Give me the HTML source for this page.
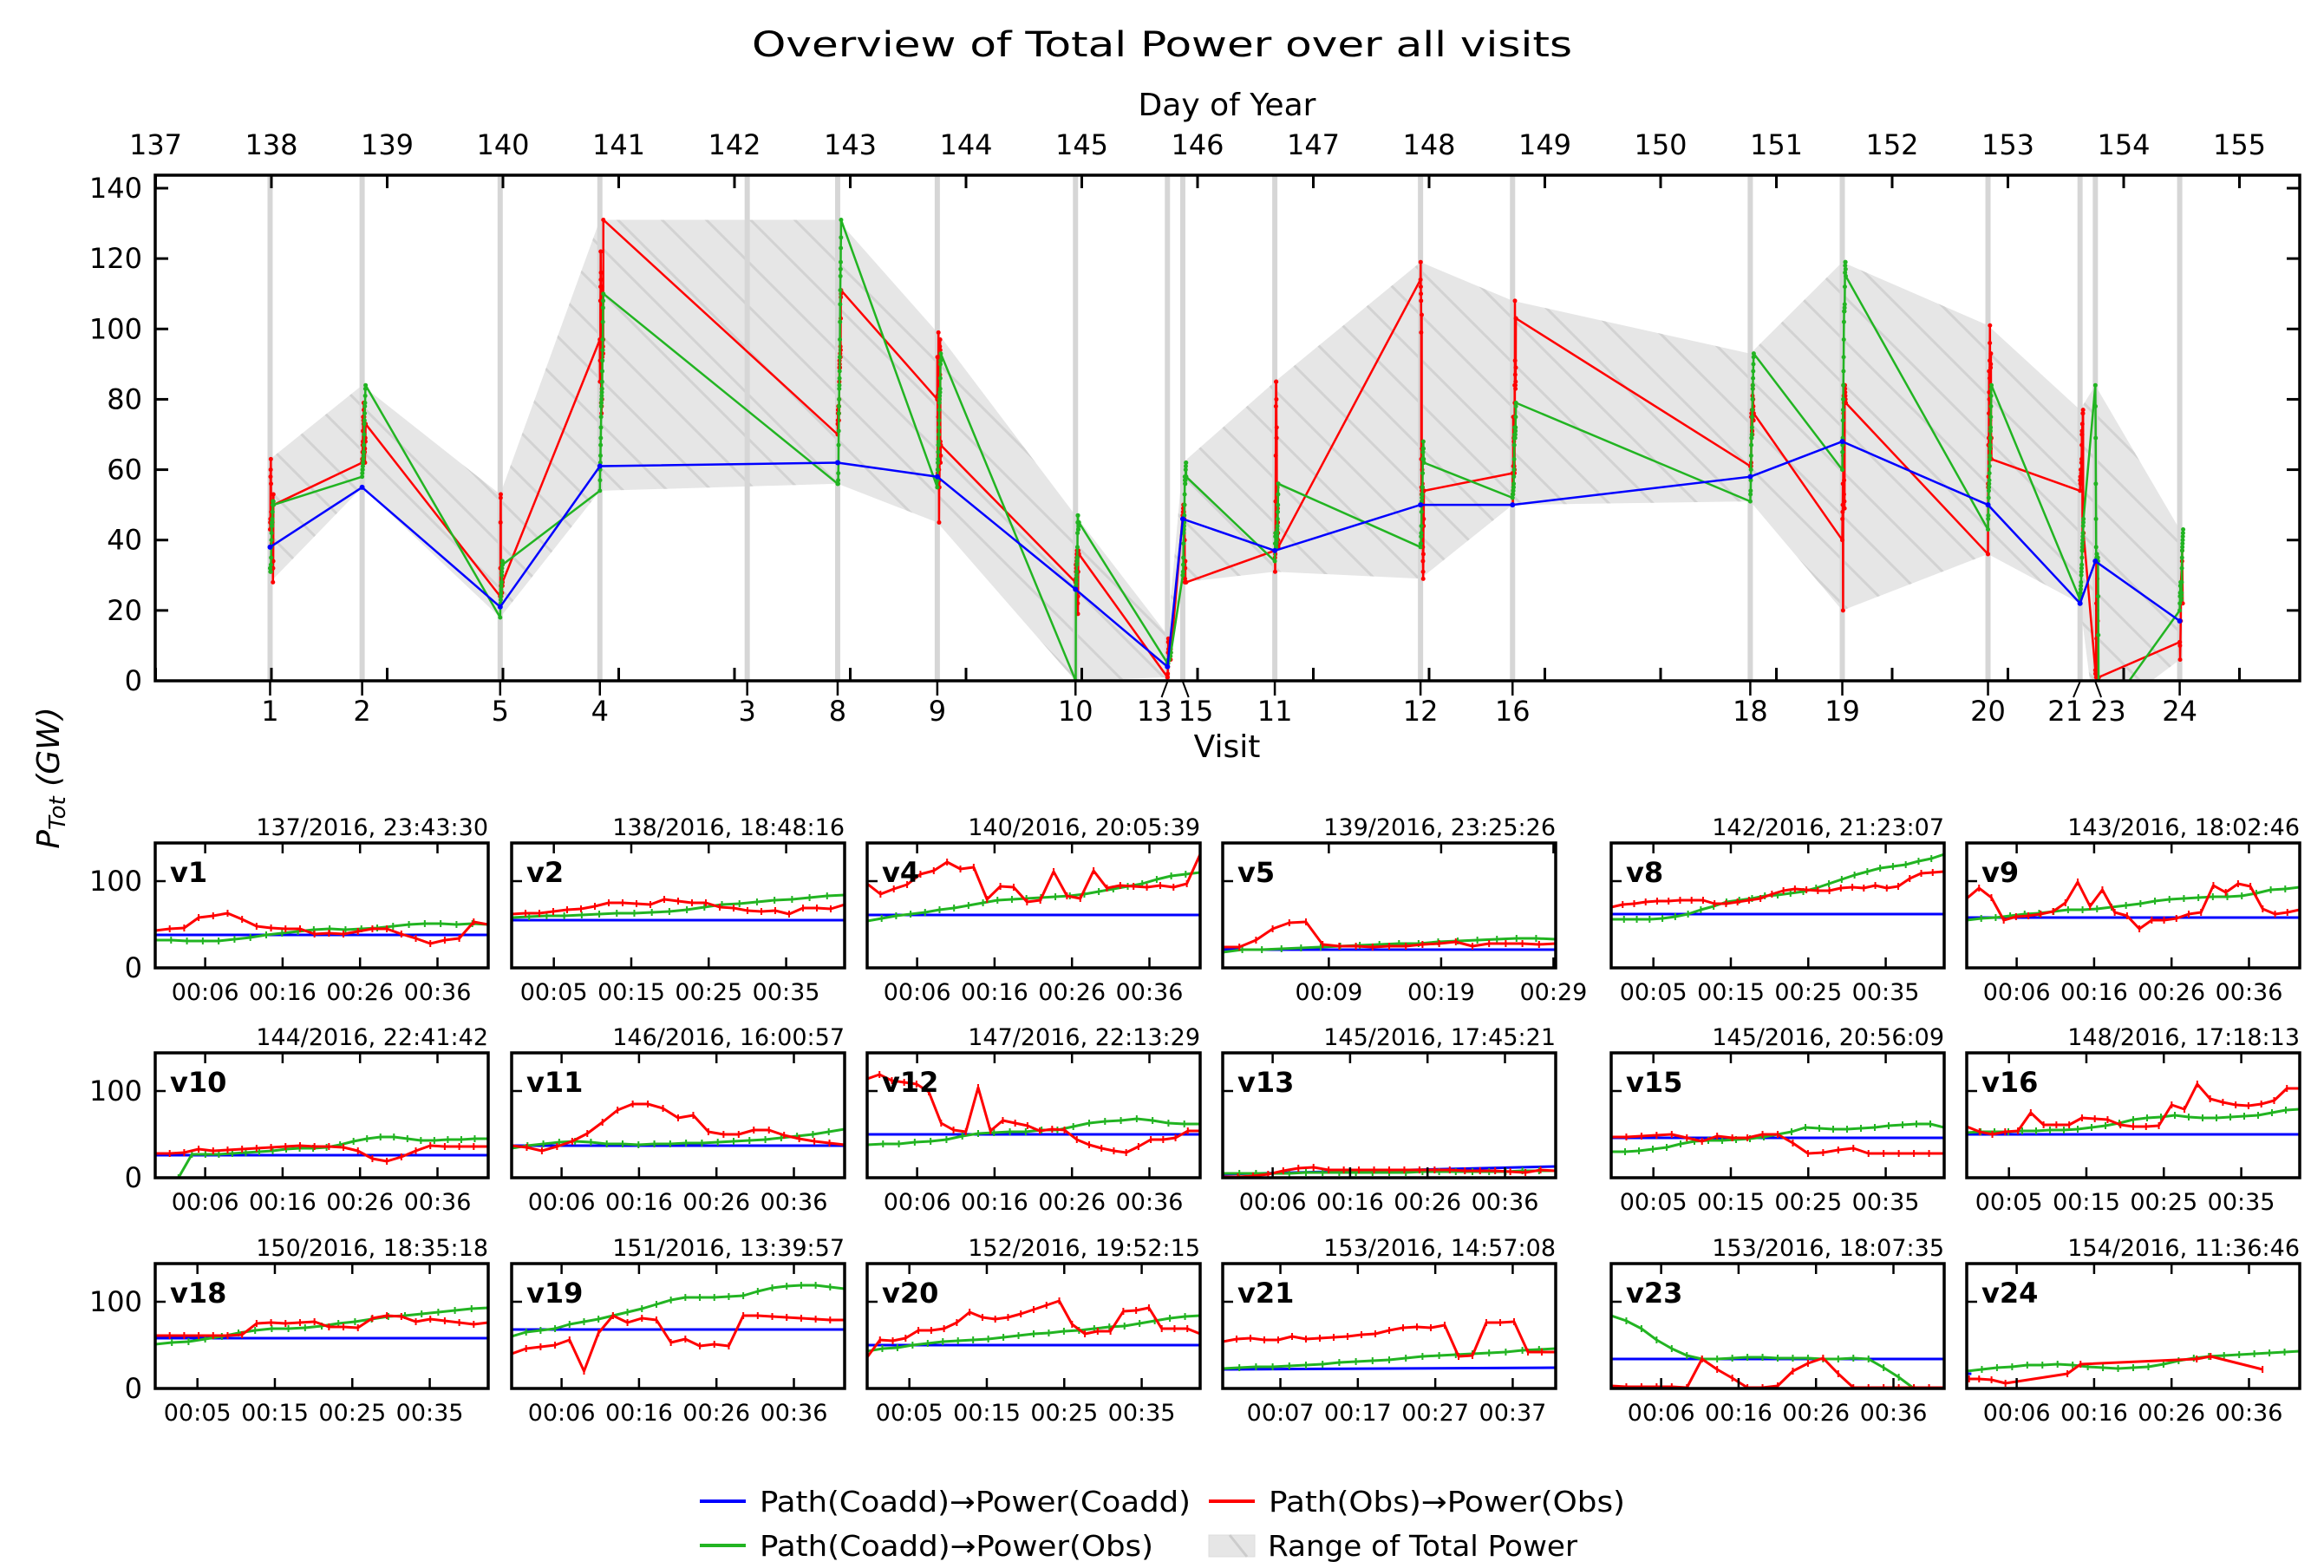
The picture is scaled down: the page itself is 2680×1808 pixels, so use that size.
<!DOCTYPE html>
<html>
<head>
<meta charset="utf-8">
<style>
  html,body{margin:0;padding:0;background:#fff;}
  svg{display:block;}
  text{font-family:"DejaVu Sans","Liberation Sans",sans-serif;fill:#000;}
</style>
</head>
<body>
<svg id="fig" xmlns="http://www.w3.org/2000/svg" width="2680" height="1808" viewBox="0 0 2680 1808">
  <defs>
    <pattern id="hatch" patternUnits="userSpaceOnUse" width="51" height="51">
      <path d="M0,0 L51,51 M-26,25 L26,77 M25,-26 L77,26" stroke="#d2d2d2" stroke-width="3"/>
    </pattern>
    <clipPath id="mainClip"><rect x="179" y="202" width="2473" height="583"/></clipPath>
  </defs>
  <rect x="0" y="0" width="2680" height="1808" fill="#fff"/>
</svg>
<script>
// ---------------- DATA ----------------
const dayTicks = [137,138,139,140,141,142,143,144,145,146,147,148,149,150,151,152,153,154,155];
const mainYTicks = [0,20,40,60,80,100,120,140];
const visit3Day = 142.11;

const red_v1 = [43,45,46,58,60,63,56,48,46,45,45,39,40,39,42,45,45,39,34,28,32,34,53,50];
const green_v1 = [32,32,31,31,31,33,35,38,40,42,44,45,44,45,46,48,50,51,51,50,51,50];
const blue_v1 = [38];
const red_v2 = [62,63,63,65,67,68,71,75,75,74,73,79,77,75,75,70,69,66,65,66,62,69,69,68,73];
const green_v2 = [58,59,60,60,61,62,63,63,64,65,67,70,73,74,76,78,79,81,83,84];
const blue_v2 = [55];
const red_v4 = [97,85,91,96,108,112,122,114,116,79,94,93,76,78,111,83,80,112,92,95,94,93,95,93,97,131];
const green_v4 = [54,57,60,62,64,67,69,72,75,78,79,80,81,82,83,85,88,91,94,97,102,106,108,110];
const blue_v4 = [61];
const red_v5 = [24,24,32,45,52,53,27,25,25,24,25,25,27,28,30,25,28,28,28,27,28];
const green_v5 = [18,21,21,22,23,24,25,26,27,28,28,30,31,32,33,34,34,33];
const blue_v5 = [21];
const red_v8 = [70,73,74,76,77,77,78,78,78,74,74,76,78,80,85,89,91,90,89,89,92,93,92,95,92,94,103,109,110,111];
const green_v8 = [56,56,56,56,57,59,62,67,71,76,78,80,83,84,86,88,92,97,102,107,111,115,117,119,123,126,131];
const blue_v8 = [62];
const red_v9 = [80,92,81,55,59,60,62,65,75,99,71,90,64,60,45,55,55,57,62,64,95,87,97,94,68,62,64,67];
const green_v9 = [55,57,58,60,62,63,65,67,67,68,70,72,74,77,79,80,81,82,82,83,86,90,91,93];
const blue_v9 = [58];
const red_v10 = [28,28,29,33,31,32,33,34,35,36,37,36,36,35,31,22,19,24,31,37,36,36,36,36];
const green_v10 = [0,27,27,27,28,29,30,31,33,34,34,35,38,42,45,47,47,45,43,43,44,44,45,45];
const blue_v10 = [26];
const red_v11 = [37,35,31,36,42,51,64,78,85,85,80,69,72,53,50,50,55,55,49,45,42,40,38];
const green_v11 = [34,37,39,41,42,41,39,39,38,39,39,40,40,41,42,43,44,46,48,50,53,56];
const blue_v11 = [37];
const red_v12 = [114,119,112,110,108,99,63,55,53,104,54,66,63,60,54,56,55,44,38,34,31,29,36,44,44,46,54,54];
const green_v12 = [38,39,39,41,42,44,48,51,52,53,53,55,55,59,63,65,66,68,66,63,62,62];
const blue_v12 = [50];
const red_v13 = [1,1,2,4,8,11,12,9,9,9,9,9,9,9,9,9,8,8,8,7,6,9,8];
const green_v13 = [5,5,5,5,5,6,6,6,6,6,6,6,7,7,7,7,7,7,8,8,8];
const blue_v13 = [4,13];
const red_v15 = [47,47,48,49,50,46,42,48,46,46,50,50,40,28,29,32,34,28,28,28,28,28,28];
const green_v15 = [30,30,31,33,35,39,42,43,43,44,45,47,50,53,58,57,56,56,57,58,60,61,62,62,58];
const blue_v15 = [46];
const red_v16 = [59,53,50,53,54,75,61,61,61,69,68,67,61,59,59,60,84,79,108,91,87,84,83,85,89,103,103];
const green_v16 = [52,53,53,53,54,54,55,55,56,58,60,63,67,69,70,72,70,69,69,70,71,72,75,78,79];
const blue_v16 = [50];
const red_v18 = [61,61,61,61,61,61,62,75,76,75,76,77,71,71,70,81,84,83,77,80,78,76,74,76];
const green_v18 = [51,53,54,57,60,64,67,69,69,70,72,75,77,80,83,84,86,88,90,92,93];
const blue_v18 = [58];
const red_v19 = [40,46,48,50,56,20,64,84,76,81,79,53,57,49,51,49,84,84,83,82,81,80,79,79];
const green_v19 = [60,65,67,69,74,77,80,84,88,92,97,102,105,105,105,106,107,112,116,118,119,119,117,115];
const blue_v19 = [68];
const red_v20 = [36,56,55,58,67,67,69,76,88,82,80,82,86,91,96,101,74,63,66,66,89,90,93,69,69,69,63];
const green_v20 = [43,46,47,50,52,54,55,56,57,59,61,63,64,66,67,69,71,72,75,78,81,83,84];
const blue_v20 = [50];
const red_v21 = [54,57,58,56,56,60,57,58,59,60,62,63,67,70,71,70,73,37,38,76,76,77,42,42,42];
const green_v21 = [23,24,25,25,26,27,28,30,31,32,33,35,37,38,39,40,41,42,44,45,46];
const blue_v21 = [22,24];
const red_v23 = [3,2,2,2,2,1,34,22,12,1,1,3,20,29,35,17,1,1,1,1,1,1,1];
const green_v23 = [84,78,69,56,46,38,34,34,35,36,36,35,35,35,34,34,35,34,24,13,0,-8,-12];
const blue_v23 = [34];
const red_v24 = [11,11,10,6,17,28,34,37,22];
const red_v24_times = [0.3,1.6,3.2,5,13,14.7,29.7,31.5,38.2];
const green_v24 = [20,22,24,25,27,27,28,27,25,24,23,24,25,28,32,35,37,38,39,40,41,42,43];
const blue_v24 = [17];

const ticks06 = ['00:06','00:16','00:26','00:36'];
const ticks05 = ['00:05','00:15','00:25','00:35'];
const ticks07 = ['00:07','00:17','00:27','00:37'];
const ticks09 = ['00:09','00:19','00:29'];

const panels = [
  {id:'1', doy:137, time:'23:43:30', red:red_v1, green:green_v1, blue:blue_v1, ticks:ticks06},
  {id:'2', doy:138, time:'18:48:16', red:red_v2, green:green_v2, blue:blue_v2, ticks:ticks05},
  {id:'4', doy:140, time:'20:05:39', red:red_v4, green:green_v4, blue:blue_v4, ticks:ticks06},
  {id:'5', doy:139, time:'23:25:26', red:red_v5, green:green_v5, blue:blue_v5, ticks:ticks09, span:29.65},
  {id:'8', doy:142, time:'21:23:07', red:red_v8, green:green_v8, blue:blue_v8, ticks:ticks05},
  {id:'9', doy:143, time:'18:02:46', red:red_v9, green:green_v9, blue:blue_v9, ticks:ticks06},
  {id:'10', doy:144, time:'22:41:42', red:red_v10, green:green_v10, blue:blue_v10, ticks:ticks06, greenStart:3},
  {id:'11', doy:146, time:'16:00:57', red:red_v11, green:green_v11, blue:blue_v11, ticks:ticks06},
  {id:'12', doy:147, time:'22:13:29', red:red_v12, green:green_v12, blue:blue_v12, ticks:ticks06},
  {id:'13', doy:145, time:'17:45:21', red:red_v13, green:green_v13, blue:blue_v13, ticks:ticks06},
  {id:'15', doy:145, time:'20:56:09', red:red_v15, green:green_v15, blue:blue_v15, ticks:ticks05},
  {id:'16', doy:148, time:'17:18:13', red:red_v16, green:green_v16, blue:blue_v16, ticks:ticks05},
  {id:'18', doy:150, time:'18:35:18', red:red_v18, green:green_v18, blue:blue_v18, ticks:ticks05},
  {id:'19', doy:151, time:'13:39:57', red:red_v19, green:green_v19, blue:blue_v19, ticks:ticks06},
  {id:'20', doy:152, time:'19:52:15', red:red_v20, green:green_v20, blue:blue_v20, ticks:ticks05},
  {id:'21', doy:153, time:'14:57:08', red:red_v21, green:green_v21, blue:blue_v21, ticks:ticks07},
  {id:'23', doy:153, time:'18:07:35', red:red_v23, green:green_v23, blue:blue_v23, ticks:ticks06},
  {id:'24', doy:154, time:'11:36:46', red:red_v24, redTimes:red_v24_times, green:green_v24, blue:blue_v24, ticks:ticks06, blueShort:true}
];
const labelShift = {'13':-15,'15':15,'21':-17,'23':15};

// ---------------- HELPERS ----------------
const NS = 'http://www.w3.org/2000/svg';
const svg = document.getElementById('fig');
function mk(tag, parent){ const e = document.createElementNS(NS, tag); parent.appendChild(e); return e; }
function set(e, o){ for (const k in o) e.setAttribute(k, o[k]); return e; }
function txt(parent, x, y, s, size, anchor, weight){
  const t = mk('text', parent);
  set(t, {x:x, y:y, 'font-size':size, 'text-anchor':anchor||'middle'});
  if (weight) t.setAttribute('font-weight', weight);
  t.textContent = s;
  return t;
}
function dayOf(p){ const h = p.time.split(':').map(Number); return p.doy + (h[0] + h[1]/60 + h[2]/3600)/24; }
function seriesTimes(vals, span, start, explicit){
  if (explicit) return explicit;
  const s = start || 0;
  return vals.map((v,i)=> s + (span - s) * (vals.length===1 ? 0 : i/(vals.length-1)));
}
const RED='#ff0000', GREEN='#22b422', BLUE='#0000ff';

// ---------------- MAIN AXES ----------------
const MX0 = 179.5, MDX = 133.5, MY0 = 785, MYS = 568/140;
function xDay(d){ return MX0 + (d - 137) * MDX; }
function yMain(v){ return MY0 - v * MYS; }

const gMain = mk('g', svg);



const title = txt(svg, 1340, 65, 'Overview of Total Power over all visits', 40);
set(title, {textLength:946, lengthAdjust:'spacingAndGlyphs'});



const topLabel = txt(svg, 1415, 133, 'Day of Year', 36);



const botLabel = txt(svg, 1415, 873, 'Visit', 36);



// y label
const yl = mk('text', svg);
set(yl, {x:0, y:0, 'font-size':36, 'text-anchor':'middle', transform:'translate(68,897) rotate(-90)', 'font-style':'italic'});


const ts1 = mk('tspan', yl); ts1.textContent = 'P';
const ts2 = mk('tspan', yl); set(ts2, {'baseline-shift':'-25%', 'font-size':26}); ts2.textContent = 'Tot';
const ts3 = mk('tspan', yl); ts3.textContent = ' (GW)';

// compute per-visit series in chronological order
const ordered = panels.slice().sort((a,b)=>dayOf(a)-dayOf(b));
const clipG = mk('g', gMain);
clipG.setAttribute('clip-path', 'url(#mainClip)');



// band
const upper = [], lower = [];
ordered.forEach(p=>{
  const all = p.red.concat(p.green, p.blue);
  const x = xDay(dayOf(p));
  upper.push([x, Math.max(...all)]);
  lower.push([x, Math.min(...all)]);
});
const bandPts = upper.map(q=>q[0].toFixed(1)+','+yMain(q[1]).toFixed(1))
  .concat(lower.slice().reverse().map(q=>q[0].toFixed(1)+','+yMain(q[1]).toFixed(1))).join(' ');
const band = mk('polygon', clipG);
set(band, {points:bandPts, fill:'#e6e6e6', stroke:'none'});


const bandH = mk('polygon', clipG);
set(bandH, {points:bandPts, fill:'url(#hatch)', stroke:'none'});



// visit grey lines
const visitXs = ordered.map(p=>({id:p.id, x:xDay(dayOf(p))}));
visitXs.push({id:'3', x:xDay(visit3Day)});
visitXs.forEach(v=>{
  const l = mk('line', clipG);
  set(l, {x1:v.x, x2:v.x, y1:202, y2:785, stroke:'#d6d6d6', 'stroke-width':6});
  
  
});

// series in main
function mainSeries(key, color, name){
  const pts = [];
  ordered.forEach(p=>{
    const span = p.span || 43;
    const vals = p[key];
    const times = key==='red' ? seriesTimes(vals, span, 0, p.redTimes) : seriesTimes(vals, span, key==='green'?p.greenStart:0);
    const d0 = dayOf(p);
    vals.forEach((v,i)=> pts.push([xDay(d0 + times[i]/1440), yMain(v)]));
  });
  const pl = mk('polyline', clipG);
  set(pl, {points:pts.map(q=>q[0].toFixed(1)+','+q[1].toFixed(1)).join(' '), fill:'none', stroke:color, 'stroke-width':2.5, 'stroke-linejoin':'round'});
  
  
  pts.forEach(q=>{
    const c = mk('circle', clipG);
    set(c, {cx:q[0], cy:q[1], r:2.5, fill:color});
    
    
  });
}
mainSeries('red', RED, 'obs-power-line');
mainSeries('green', GREEN, 'coadd-path-obs-power-line');
// blue: one value per visit (first)
const bluePts = ordered.map(p=>[xDay(dayOf(p)), yMain(p.blue[0])]);
const bl = mk('polyline', clipG);
set(bl, {points:bluePts.map(q=>q[0].toFixed(1)+','+q[1].toFixed(1)).join(' '), fill:'none', stroke:BLUE, 'stroke-width':2.5});


bluePts.forEach(q=>{
  const c = mk('circle', clipG);
  set(c, {cx:q[0], cy:q[1], r:3, fill:BLUE});
  
  
});

// frame
const frame = mk('rect', gMain);
set(frame, {x:179, y:202, width:2473, height:583, fill:'none', stroke:'#000', 'stroke-width':3.5});



// day ticks
dayTicks.forEach(d=>{
  const x = xDay(d);
  const t1 = mk('line', gMain); set(t1, {x1:x, x2:x, y1:202, y2:217, stroke:'#000', 'stroke-width':3});
  
  
  const t2 = mk('line', gMain); set(t2, {x1:x, x2:x, y1:770, y2:785, stroke:'#000', 'stroke-width':3});
  
  
  const lb = txt(gMain, x, 178, String(d), 32);
  
  
});
// y ticks
mainYTicks.forEach(v=>{
  const y = yMain(v);
  const a = mk('line', gMain); set(a, {x1:179, x2:194, y1:y, y2:y, stroke:'#000', 'stroke-width':3});
  
  
  const b = mk('line', gMain); set(b, {x1:2637, x2:2652, y1:y, y2:y, stroke:'#000', 'stroke-width':3});
  
  
  const lb = txt(gMain, 164, y + 11, String(v), 32, 'end');
  
  
});
// visit ticks
visitXs.forEach(v=>{
  const sh = labelShift[v.id] || 0;
  const tk = mk('line', gMain);
  if (sh) set(tk, {x1:v.x, x2:v.x + sh*0.45, y1:786, y2:804, stroke:'#000', 'stroke-width':2});
  else set(tk, {x1:v.x, x2:v.x, y1:786, y2:802, stroke:'#000', 'stroke-width':2.5});
  
  
  const lb = txt(gMain, v.x + sh, 831, v.id, 32);
  
  
});

// ---------------- PANELS ----------------
const colLeft = [179,590,1000,1410,1858,2268];
const rowBottom = [1116,1358,1601];
const PW = 384, PH = 144;
panels.forEach((p, idx)=>{
  const col = idx % 6, row = Math.floor(idx / 6);
  const L = colLeft[col], B = rowBottom[row], T = B - PH;
  const span = p.span || 43;
  const px = t => L + t / span * PW;
  const py = v => B - v * (100/100);
  const g = mk('g', svg);
  
  
  const cp = mk('clipPath', g); cp.setAttribute('id', 'clip' + p.id);
  const cr = mk('rect', cp); set(cr, {x:L, y:T, width:PW, height:PH});
  const inner = mk('g', g); inner.setAttribute('clip-path', 'url(#clip' + p.id + ')');
  
  

  function draw(vals, times, color, nm, mark){
    const pts = vals.map((v,i)=>[px(times[i]), py(v)]);
    const pl = mk('polyline', inner);
    set(pl, {points:pts.map(q=>q[0].toFixed(1)+','+q[1].toFixed(1)).join(' '), fill:'none', stroke:color, 'stroke-width':3, 'stroke-linejoin':'round'});
    
    
    if (mark) pts.forEach(q=>{
      const m = mk('line', inner);
      set(m, {x1:q[0], x2:q[0], y1:q[1]-4, y2:q[1]+4, stroke:color, 'stroke-width':2});
      
      
    });
  }
  // blue
  const bt = p.blueShort ? [0, 0.6] : (p.blue.length > 1 ? seriesTimes(p.blue, span) : [0, span]);
  const bv = p.blue.length > 1 ? p.blue : [p.blue[0], p.blue[0]];
  draw(bv, bt, BLUE, 'coadd-power-line-v' + p.id, false);
  draw(p.green, seriesTimes(p.green, span, p.greenStart), GREEN, 'coadd-path-obs-power-line-v' + p.id, true);
  draw(p.red, seriesTimes(p.red, span, 0, p.redTimes), RED, 'obs-power-line-v' + p.id, true);

  const fr = mk('rect', g);
  set(fr, {x:L, y:T, width:PW, height:PH, fill:'none', stroke:'#000', 'stroke-width':3.5});
  
  

  p.ticks.forEach(lbl=>{
    const m = lbl.split(':').map(Number);
    const x = px(m[0]*60 + m[1] + 0.45);
    const a = mk('line', g); set(a, {x1:x, x2:x, y1:T, y2:T+12, stroke:'#000', 'stroke-width':2.5});
    
    
    const b = mk('line', g); set(b, {x1:x, x2:x, y1:B-12, y2:B, stroke:'#000', 'stroke-width':2.5});
    
    
    const tl = txt(g, x, B + 37, lbl, 27);
    
    
  });
  [0,100].forEach(v=>{
    const y = py(v);
    const a = mk('line', g); set(a, {x1:L, x2:L+12, y1:y, y2:y, stroke:'#000', 'stroke-width':2.5});
    
    
    if (col === 0) {
      const yl2 = txt(g, 164, y + 11, String(v), 32, 'end');
      
      
    }
  });
  const pt = txt(g, L + PW, T - 9, p.doy + '/2016, ' + p.time, 27, 'end');
  
  
  const vl = txt(g, L + 17, T + 45, 'v' + p.id, 32, 'start', 'bold');
  
  
});

// ---------------- LEGEND ----------------
const lg = mk('g', svg);


function legLine(x, y, color, label, width, nm){
  const l = mk('line', lg); set(l, {x1:x, x2:x+53, y1:y, y2:y, stroke:color, 'stroke-width':4});
  
  
  const t = txt(lg, x + 69, y + 12, label, 33, 'start');
  set(t, {textLength:width, lengthAdjust:'spacingAndGlyphs'});
  
  
}
legLine(807, 1731, BLUE, 'Path(Coadd)\u2192Power(Coadd)', 497, 'legend-entry-coadd-power');
legLine(1394, 1731, RED, 'Path(Obs)\u2192Power(Obs)', 411, 'legend-entry-obs-power');
legLine(807, 1782, GREEN, 'Path(Coadd)\u2192Power(Obs)', 454, 'legend-entry-coadd-path-obs-power');
const pr = mk('rect', lg); set(pr, {x:1394, y:1770, width:53, height:25, fill:'#e6e6e6', stroke:'#dcdcdc', 'stroke-width':1});


const pr2 = mk('line', lg); set(pr2, {x1:1418, y1:1770, x2:1438, y2:1795, stroke:'#cccccc', 'stroke-width':3});


const rt = txt(lg, 1462, 1794, 'Range of Total Power', 33, 'start');
set(rt, {textLength:357, lengthAdjust:'spacingAndGlyphs'});


</script>
</body>
</html>
